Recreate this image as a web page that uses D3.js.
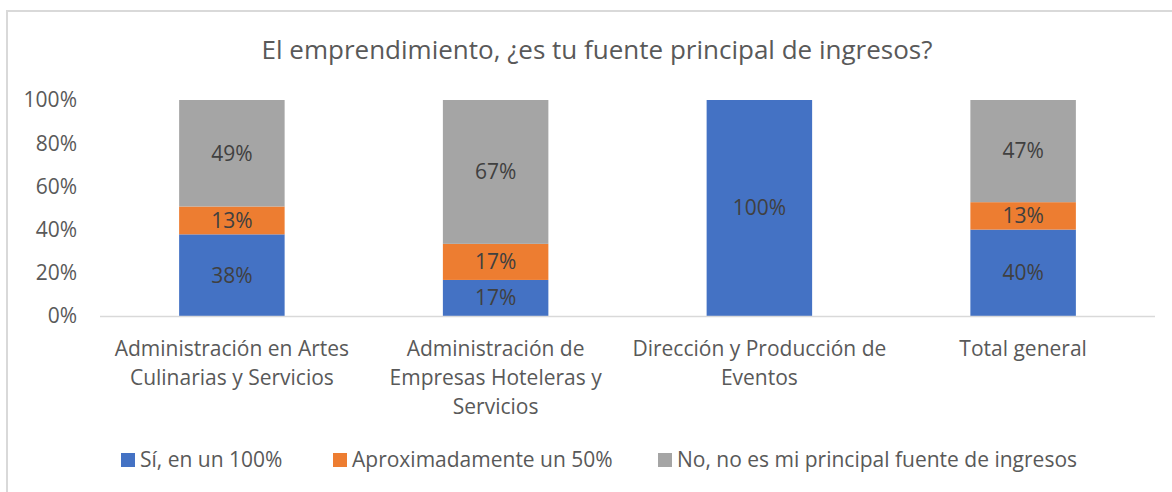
<!DOCTYPE html>
<html>
<head>
<meta charset="utf-8">
<script src="https://cdn.jsdelivr.net/npm/d3@7"></script>
<style>
    body { margin: 0; background: #fff; }
    svg { display: block; }
    text { font-family: "Open Sans", Lato, sans-serif; }
</style>
</head>
<body>
<div id="grafica"></div>
<script>
"use strict";

// datos del grafico
const categorias = [
    ["Administración en Artes", "Culinarias y Servicios"],
    ["Administración de", "Empresas Hoteleras y", "Servicios"],
    ["Dirección y Producción de", "Eventos"],
    ["Total general"]
];
const series = ["Sí, en un 100%", "Aproximadamente un 50%", "No, no es mi principal fuente de ingresos"];
const si100 = [37.8, 16.7, 100, 40.0];
const aprox50 = [12.9, 16.7, 0, 12.7];
const noPrincipal = [49.3, 66.6, 0, 47.3];
const ticksY = [0, 20, 40, 60, 80, 100];
const colores = ["#4472c4", "#ed7d31", "#a5a5a5"];

const width = 1172, height = 492;
const margin = { top: 100, bottom: 176, left: 100, right: 17 };
const fuente = "21px";

const svg = d3.select("#grafica").append("svg")
    .attr("width", width)
    .attr("height", height);

// borde del area del grafico
svg.append("rect")
    .attr("x", 7).attr("y", 11)
    .attr("width", width + 10).attr("height", height + 10)
    .attr("fill", "#fff")
    .attr("stroke", "#d9d9d9")
    .attr("stroke-width", 2);

svg.append("text")
    .attr("x", 597).attr("y", 59)
    .attr("text-anchor", "middle")
    .attr("fill", "#595959")
    .style("font-size", "26px")
    .text("El emprendimiento, ¿es tu fuente principal de ingresos?");

const x = d3.scaleBand()
    .domain(d3.range(categorias.length))
    .range([margin.left, width - margin.right])
    .paddingInner(0.6)
    .paddingOuter(0.3);

const y = d3.scaleLinear()
    .domain([0, 100])
    .range([height - margin.bottom, margin.top]);

// eje Y (solo etiquetas)
svg.selectAll(".tick-y")
    .data(ticksY)
    .enter().append("text")
    .attr("class", "tick-y")
    .attr("x", 77)
    .attr("y", (d) => y(d))
    .attr("dy", ".35em")
    .attr("text-anchor", "end")
    .attr("fill", "#595959")
    .style("font-size", fuente)
    .text((d) => d + "%");

const datos = categorias.map((c, i) => ({ i: i, s0: si100[i], s1: aprox50[i], s2: noPrincipal[i] }));
const pila = d3.stack().keys(["s0", "s1", "s2"])(datos);

const capas = svg.selectAll(".serie")
    .data(pila)
    .enter().append("g")
    .attr("class", "serie")
    .attr("fill", (d, i) => colores[i]);

capas.selectAll("rect")
    .data((d) => d)
    .enter().append("rect")
    .attr("x", (d) => x(d.data.i))
    .attr("y", (d) => y(d[1]))
    .attr("width", x.bandwidth())
    .attr("height", (d) => y(d[0]) - y(d[1]));

// etiquetas de porcentaje
capas.selectAll(".porcentaje")
    .data((d) => d.filter((p) => p[1] - p[0] > 0))
    .enter().append("text")
    .attr("class", "porcentaje")
    .attr("x", (d) => x(d.data.i) + x.bandwidth() / 2)
    .attr("y", (d) => y((d[0] + d[1]) / 2))
    .attr("dy", ".35em")
    .attr("text-anchor", "middle")
    .attr("fill", "#404040")
    .style("font-size", fuente)
    .text((d) => Math.round(d[1] - d[0]) + "%");

// linea base del eje X
svg.append("line")
    .attr("x1", margin.left).attr("x2", width - margin.right)
    .attr("y1", y(0) + 0.5).attr("y2", y(0) + 0.5)
    .attr("stroke", "#d9d9d9")
    .attr("stroke-width", 1.5);

// etiquetas de categoria
const etiquetas = svg.selectAll(".categoria")
    .data(categorias)
    .enter().append("text")
    .attr("class", "categoria")
    .attr("text-anchor", "middle")
    .attr("fill", "#595959")
    .style("font-size", fuente);

etiquetas.selectAll("tspan")
    .data((d, i) => d.map((linea) => ({ linea: linea, i: i })))
    .enter().append("tspan")
    .attr("x", (d) => x(d.i) + x.bandwidth() / 2)
    .attr("y", (d, j) => 356 + j * 29)
    .text((d) => d.linea);

// leyenda
const posLeyenda = [121, 333, 658];
const leyenda = svg.selectAll(".leyenda")
    .data(series)
    .enter().append("g")
    .attr("class", "leyenda")
    .attr("transform", (d, i) => "translate(" + posLeyenda[i] + ",453)");

leyenda.append("rect")
    .attr("width", 14).attr("height", 14)
    .attr("fill", (d, i) => colores[i]);

leyenda.append("text")
    .attr("x", 19)
    .attr("y", 7)
    .attr("dy", ".35em")
    .attr("fill", "#595959")
    .style("font-size", fuente)
    .text((d) => d);
</script>
</body>
</html>
